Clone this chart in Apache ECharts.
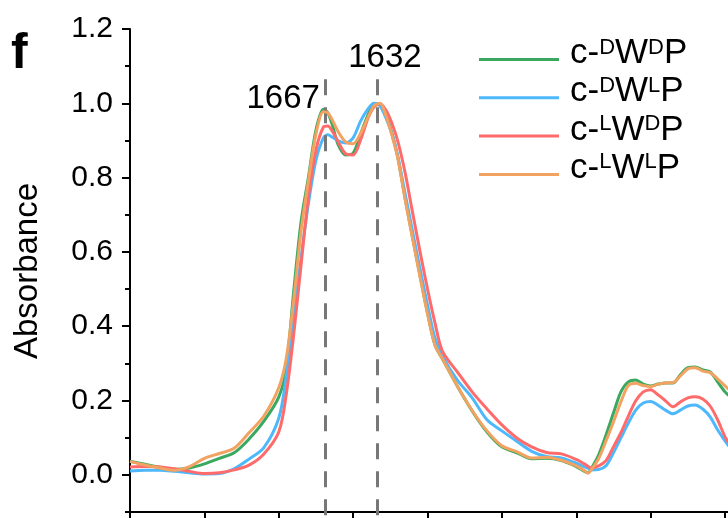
<!DOCTYPE html>
<html><head><meta charset="utf-8">
<script src="https://cdn.jsdelivr.net/npm/echarts@6/dist/echarts.min.js"></script>
<style>html,body{margin:0;padding:0;background:#fff}#c{width:728px;height:518px}</style>
</head><body><div id="c"></div>
<script>
// wavenumber (cm^-1), axis reversed
const wavenumbers = [1800,1790,1780,1770,1760,1750,1740,1730,1720,1710,1700,1695,1690,1685,1680,1675,1670,1667,1664,1660,1655,1650,1645,1640,1636,1632,1628,1624,1620,1615,1610,1605,1600,1595,1590,1580,1570,1560,1550,1540,1530,1520,1510,1500,1495,1492,1490,1485,1480,1475,1470,1465,1460,1455,1450,1445,1440,1435,1430,1425,1420,1415,1410,1405,1400,1397];
// c-DWDP (green)
const absDWDP = [0.036,0.028,0.020,0.014,0.018,0.029,0.044,0.059,0.096,0.144,0.209,0.287,0.492,0.681,0.802,0.928,0.984,0.974,0.942,0.888,0.861,0.866,0.917,0.969,0.998,0.999,0.971,0.920,0.855,0.743,0.638,0.536,0.436,0.349,0.312,0.239,0.172,0.115,0.075,0.059,0.043,0.044,0.038,0.022,0.010,0.005,0.016,0.053,0.107,0.166,0.223,0.250,0.255,0.244,0.239,0.244,0.247,0.247,0.269,0.288,0.290,0.282,0.277,0.250,0.223,0.212];
// c-DWLP (blue)
const absDWLP = [0.010,0.012,0.012,0.009,0.005,0.002,0.003,0.016,0.042,0.073,0.152,0.263,0.422,0.584,0.732,0.847,0.907,0.915,0.909,0.899,0.893,0.907,0.952,0.985,1.000,0.993,0.961,0.918,0.858,0.756,0.654,0.554,0.457,0.368,0.320,0.255,0.207,0.148,0.118,0.090,0.063,0.049,0.045,0.031,0.022,0.017,0.013,0.014,0.024,0.059,0.099,0.139,0.174,0.193,0.197,0.187,0.174,0.164,0.174,0.185,0.188,0.177,0.156,0.121,0.091,0.075];
// c-LWDP (red)
const absLWDP = [0.021,0.022,0.021,0.016,0.009,0.003,0.005,0.013,0.026,0.056,0.115,0.215,0.376,0.565,0.750,0.874,0.936,0.939,0.925,0.896,0.864,0.861,0.901,0.960,0.990,0.999,0.982,0.947,0.898,0.812,0.705,0.600,0.500,0.409,0.333,0.277,0.223,0.177,0.134,0.099,0.075,0.060,0.056,0.041,0.030,0.022,0.018,0.024,0.038,0.075,0.113,0.158,0.199,0.223,0.229,0.215,0.199,0.183,0.196,0.207,0.210,0.204,0.185,0.148,0.102,0.083];
// c-LWLP (orange)
const absLWLP = [0.036,0.026,0.018,0.012,0.022,0.044,0.057,0.071,0.113,0.158,0.234,0.312,0.469,0.656,0.793,0.917,0.977,0.974,0.955,0.923,0.896,0.891,0.919,0.962,0.993,1.000,0.968,0.915,0.853,0.740,0.635,0.532,0.433,0.349,0.312,0.239,0.173,0.118,0.078,0.062,0.045,0.047,0.039,0.024,0.012,0.004,0.013,0.043,0.091,0.142,0.196,0.240,0.246,0.240,0.237,0.244,0.247,0.248,0.266,0.285,0.288,0.279,0.275,0.258,0.239,0.228];

const seriesNames = ['c-DWDP','c-DWLP','c-LWDP','c-LWLP'];
const legendLabels = {
  'c-DWDP':'{m|c-}{s|D}{m|W}{s|D}{m|P}',
  'c-DWLP':'{m|c-}{s|D}{m|W}{s|L}{m|P}',
  'c-LWDP':'{m|c-}{s|L}{m|W}{s|D}{m|P}',
  'c-LWLP':'{m|c-}{s|L}{m|W}{s|L}{m|P}'
};
const seriesColors = ['#3aa95f','#4db8fb','#ff6b6b','#f2a261'];
// annotated peak positions (as drawn) and their labels
const peakPositions = [1669, 1634];
const peakLabels = ['1667', '1632'];
const yTickLabels = ['0.0','0.2','0.4','0.6','0.8','1.0','1.2'];

const FONT = '"Liberation Sans", Arial, Helvetica, sans-serif';
const datasets = [absDWDP, absDWLP, absLWDP, absLWLP];

const chart = echarts.init(document.getElementById('c'), null, {renderer:'canvas'});

const series = seriesNames.map((name, k) => ({
  name: name,
  type: 'line',
  data: wavenumbers.map((w, i) => [w, datasets[k][i]]),
  showSymbol: false,
  smooth: 0.3,
  lineStyle: {width: 3, color: seriesColors[k]},
  itemStyle: {color: seriesColors[k]},
  z: 2 + k
}));

series.push({
  name: 'peaks',
  type: 'line',
  data: [],
  markLine: {
    silent: true,
    symbol: ['none','none'],
    lineStyle: {color: '#777777', width: 3, type: [16, 12]},
    label: {show: false},
    data: peakPositions.map(p => [{coord: [p, 1.065]}, {coord: [p, -0.2]}])
  },
  markPoint: {
    silent: true,
    symbol: 'circle',
    symbolSize: 0,
    itemStyle: {color: 'rgba(0,0,0,0)'},
    data: [
      {coord: [peakPositions[0], 1.013], value: peakLabels[0],
       label: {position: 'left', distance: 5}},
      {coord: [peakPositions[1], 1.123], value: peakLabels[1],
       label: {position: 'inside', offset: [8, 0]}}
    ],
    label: {show: true, formatter: p => p.value, color: '#000', fontSize: 33, fontFamily: FONT}
  },
  z: 1
});

chart.setOption({
  animation: false,
  backgroundColor: '#fff',
  title: {
    text: 'f', left: 11, top: 29, padding: 0,
    textStyle: {fontSize: 50, fontWeight: 'bold', color: '#000', fontFamily: FONT}
  },
  grid: {left: 130, top: 29, width: 669.4, height: 520, containLabel: false, outerBoundsMode: 'none'},
  xAxis: {
    type: 'value', inverse: true, min: 1350, max: 1800, interval: 50,
    offset: -37,
    axisLine: {onZero: false, lineStyle: {color: '#000', width: 2}},
    axisTick: {show: true, inside: false, length: 6, lineStyle: {color: '#000', width: 2}},
    axisLabel: {show: false},
    splitLine: {show: false}
  },
  yAxis: {
    type: 'value', min: -0.2, max: 1.2, interval: 0.2,
    name: 'Absorbance', nameLocation: 'middle', nameGap: 86,
    nameTextStyle: {fontSize: 33, color: '#000', fontFamily: FONT, padding: [0, 0, 0, 36]},
    axisLine: {onZero: false, lineStyle: {color: '#000', width: 2}},
    axisTick: {show: true, inside: false, length: 8, lineStyle: {color: '#000', width: 2}},
    minorTick: {show: true, splitNumber: 2, length: 5, lineStyle: {color: '#000', width: 2}},
    axisLabel: {
      fontSize: 30, color: '#000', fontFamily: FONT, margin: 17,
      formatter: v => { const s = v.toFixed(1); return yTickLabels.indexOf(s) >= 0 ? s : ''; }
    },
    splitLine: {show: false}, minorSplitLine: {show: false}
  },
  legend: {
    data: seriesNames,
    orient: 'vertical', left: 479, top: 36, padding: 0,
    icon: 'rect', itemWidth: 80, itemHeight: 3, itemGap: 3.3,
    formatter: n => legendLabels[n],
    textStyle: {
      padding: [0, 0, 12, 6],
      rich: {
        m: {fontSize: 35, lineHeight: 34, color: '#000', fontFamily: FONT},
        s: {fontSize: 22, lineHeight: 22, verticalAlign: 'top', color: '#000', fontFamily: FONT}
      }
    }
  },
  series: series
});
</script>
</body></html>
